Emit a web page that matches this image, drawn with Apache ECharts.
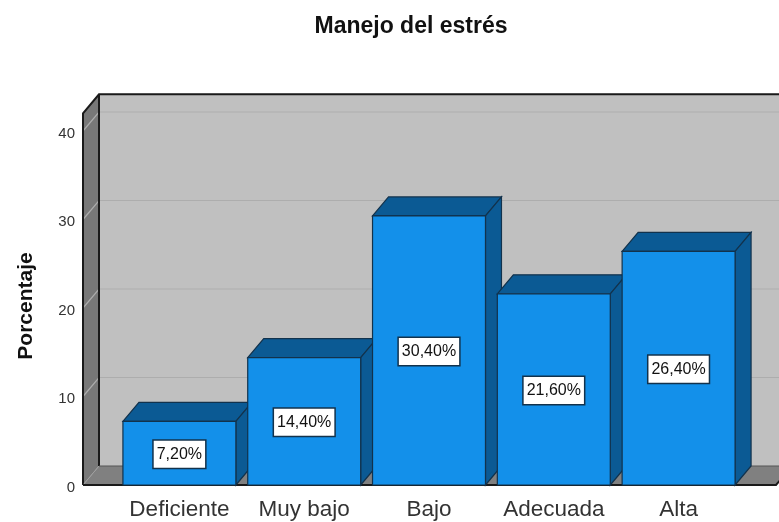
<!DOCTYPE html>
<html><head><meta charset="utf-8">
<style>html,body{margin:0;padding:0;background:#fff}#c{width:779px;height:522px}</style>
<script src="https://cdn.jsdelivr.net/npm/echarts@6/dist/echarts.min.js"></script>
</head><body><div id="c"></div>
<script>
const categories = ['Deficiente', 'Muy bajo', 'Bajo', 'Adecuada', 'Alta'];
const values = [7.2, 14.4, 30.4, 21.6, 26.4];
const yTicks = [0, 10, 20, 30, 40];
const wallTopValue = 42;

const FONT = '"Liberation Sans", Arial, sans-serif';
const DX = 16, DY = -19;
const GUTTER_L = 34, GUTTER_R = 35;
const C = {front:'#1390ea', dark:'#0b5a94', edge:'#12324c', wall:'#c0c0c0', side:'#787878', floor:'#808080', frame:'#1a1a1a', grid:'#adadad', gridSide:'#a0a0a0'};

function renderWalls(params, api) {
  const band = api.size([1, 0])[0];
  const left = api.coord([0, 0])[0] - band / 2 - GUTTER_L;
  const right = api.coord([categories.length - 1, 0])[0] + band / 2 + GUTTER_R;
  const y0 = api.coord([0, 0])[1];
  const yT = api.coord([0, wallTopValue])[1];
  const stroke = {stroke: C.frame, lineWidth: 2};
  const kids = [
    {type:'rect', shape:{x:left+DX, y:yT+DY, width:right-left+40, height:y0-yT}, style:{fill:C.wall}},
    {type:'polygon', shape:{points:[[left,yT],[left+DX,yT+DY],[left+DX,y0+DY],[left,y0]]}, style:{fill:C.side}},
    {type:'polygon', shape:{points:[[left,y0],[left+DX,y0+DY],[right+DX,y0+DY],[right,y0]]}, style:{fill:C.floor}}
  ];
  yTicks.filter(t => t > 0).forEach(t => {
    const y = api.coord([0, t])[1];
    kids.push({type:'polyline', shape:{points:[[left,y],[left+DX,y+DY],[right+DX,y+DY]]}, style:{fill:'none', stroke:C.grid, lineWidth:1.2}});
  });
  kids.push(
    {type:'polyline', shape:{points:[[left,y0],[left,yT],[left+DX,yT+DY],[right+40,yT+DY]]}, style:Object.assign({fill:'none'}, stroke)},
    {type:'line', shape:{x1:left+DX,y1:yT+DY,x2:left+DX,y2:y0+DY}, style:stroke},
    {type:'polyline', shape:{points:[[left+DX,y0+DY],[right+DX,y0+DY]]}, style:{fill:'none', stroke:'#555', lineWidth:1}},
    {type:'line', shape:{x1:left,y1:y0,x2:left+DX,y2:y0+DY}, style:{stroke:'#a0a0a0', lineWidth:1}},
    {type:'polyline', shape:{points:[[left,y0],[right,y0],[right+DX,y0+DY]]}, style:Object.assign({fill:'none'}, stroke)}
  );
  return {type:'group', children:kids};
}

function renderBar(params, api) {
  const i = api.value(0), v = api.value(1);
  const band = api.size([1, 0])[0];
  const w = band * 0.905;
  const [cx, y0] = api.coord([i, 0]);
  const yV = api.coord([i, v])[1];
  const yM = api.coord([i, v / 2])[1];
  const x1 = cx - w / 2, x2 = cx + w / 2;
  const edge = {stroke: C.edge, lineWidth: 1.2};
  return {type:'group', children:[
    {type:'polygon', shape:{points:[[x1,yV],[x1+DX,yV+DY],[x2+DX,yV+DY],[x2,yV]]}, style:Object.assign({fill:C.dark}, edge)},
    {type:'polygon', shape:{points:[[x2,yV],[x2+DX,yV+DY],[x2+DX,y0+DY],[x2,y0]]}, style:Object.assign({fill:C.dark}, edge)},
    {type:'rect', shape:{x:x1, y:yV, width:w, height:y0-yV}, style:Object.assign({fill:C.front}, edge)},
    {type:'text', x:cx, y:yM + 1, style:{
      text: v.toFixed(2).replace('.', ',') + '%',
      x:0, y:0, align:'center', verticalAlign:'middle',
      font:'16px ' + FONT, fill:'#111', backgroundColor:'#fff',
      borderColor:'#12324c', borderWidth:1.5, padding:[6,3,5,3]
    }}
  ]};
}

const chart = echarts.init(document.getElementById('c'), null, {renderer:'canvas'});
chart.setOption({
  animation:false,
  backgroundColor:'#fff',
  title:{text:'Manejo del estrés', left:406, top:10, textAlign:'center',
    textStyle:{fontFamily:FONT, fontWeight:'bold', fontSize:23, color:'#111'}},
  grid:{left:117, right:38, top:131, bottom:37},
  xAxis:{type:'category', data:categories, boundaryGap:true,
    axisLine:{show:false}, axisTick:{show:false}, splitLine:{show:false},
    axisLabel:{fontFamily:FONT, fontSize:22.5, color:'#333', margin:13, interval:0}},
  yAxis:{type:'value', min:0, max:40, interval:10, offset:34,
    name:'Porcentaje', nameLocation:'middle', nameGap:46, nameRotate:90,
    nameTextStyle:{fontFamily:FONT, fontWeight:'bold', fontSize:21, color:'#111', padding:[0,0,0,4]},
    axisLine:{show:false}, axisTick:{show:false}, splitLine:{show:false},
    axisLabel:{fontFamily:FONT, fontSize:15, color:'#333', margin:8, verticalAlign:'top', lineHeight:5}},
  series:[
    {type:'custom', z:1, silent:true, renderItem:renderWalls, data:[[0,0]], encode:{x:0,y:1}},
    {type:'custom', z:2, silent:true, renderItem:renderBar,
      data:values.map((v,i)=>[i,v]), encode:{x:0,y:1}}
  ]
});
</script></body></html>
